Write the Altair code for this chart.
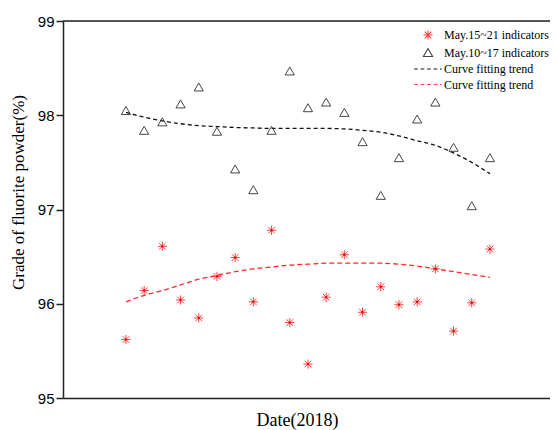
import altair as alt
import pandas as pd

# Data
idx = list(range(1, 22))
red_vals = [95.62, 96.14, 96.61, 96.04, 95.85, 96.29, 96.49, 96.02, 96.78, 95.80, 95.36,
            96.07, 96.52, 95.91, 96.18, 95.99, 96.02, 96.37, 95.71, 96.01, 96.58]
black_vals = [98.05, 97.84, 97.93, 98.12, 98.30, 97.83, 97.43, 97.21, 97.84, 98.47, 98.08,
              98.14, 98.03, 97.72, 97.15, 97.55, 97.96, 98.14, 97.66, 97.04, 97.55]
black_trend = [98.03, 97.98, 97.94, 97.91, 97.89, 97.88, 97.87, 97.865, 97.86, 97.86, 97.86,
               97.86, 97.855, 97.84, 97.82, 97.78, 97.73, 97.68, 97.60, 97.50, 97.38]
red_trend = [96.02, 96.09, 96.14, 96.20, 96.26, 96.30, 96.34, 96.37, 96.39, 96.41, 96.42,
             96.43, 96.43, 96.43, 96.43, 96.42, 96.40, 96.37, 96.34, 96.31, 96.28]

series_keys = ["a", "b", "c", "d"]
series_labels = ["May.15~21 indicators", "May.10~17 indicators", "Curve fitting trend", "Curve fitting trend"]
series_colors = ["#ff3030", "#333333", "#000000", "#ff3030"]

ASTER = "M-1,0L1,0M0,-1L0,1M-0.72,-0.72L0.72,0.72M-0.72,0.72L0.72,-0.72"
DASH = "M-3,0H-2.2M-1.6,0H-0.8M-0.2,0H0.6M1.2,0H2M2.6,0H3"
series_shapes = [ASTER, "triangle-up", DASH, DASH]

pts = pd.DataFrame({
    "i": idx + idx,
    "v": red_vals + black_vals,
    "series": ["a"] * 21 + ["b"] * 21,
})
black_df = pd.DataFrame({"i": idx, "v": black_trend})
red_df = pd.DataFrame({"i": idx, "v": red_trend})
red_pts = pd.DataFrame({"i": idx, "v": red_vals})

label_expr = ("datum.value == 'a' ? '%s' : datum.value == 'b' ? '%s' : '%s'"
              % (series_labels[0], series_labels[1], series_labels[2]))

xscale = alt.Scale(domain=[-2.46, 24.3], nice=False, zero=False)
yscale = alt.Scale(domain=[95, 99], nice=False, zero=False)

xenc = alt.X("i:Q", scale=xscale,
             axis=alt.Axis(labels=False, ticks=False, grid=False, title="Date(2018)",
                           titleFont="Liberation Serif", titleFontSize=18,
                           titleFontWeight="normal", titlePadding=13, titleX=234,
                           domainColor="#222222", domainWidth=1.5, titleColor="black"))
yenc = alt.Y("v:Q", scale=yscale,
             axis=alt.Axis(values=[95, 96, 97, 98, 99], format="d", grid=False, tickSize=7,
                           labelFont="Liberation Sans", labelFontSize=15, labelColor="black",
                           labelPadding=2, title="Grade of fluorite powder(%)",
                           titleFont="Liberation Serif", titleFontSize=17, titleY=171,
                           titleFontWeight="normal", titleColor="black", titlePadding=10,
                           domainColor="#222222", domainWidth=1.5,
                           tickColor="#222222", tickWidth=1.5))

black_line = alt.Chart(black_df).mark_line(strokeWidth=1.3, strokeDash=[4, 3], color="#111111",
                                           interpolate="monotone").encode(x=xenc, y=yenc)
red_line = alt.Chart(red_df).mark_line(strokeWidth=1.3, strokeDash=[5, 3], color="#ff2a2a",
                                       interpolate="monotone").encode(x=xenc, y=yenc)

points = alt.Chart(pts).mark_point(filled=False, size=85, strokeWidth=1, opacity=0.9).encode(
    x=xenc, y=yenc,
    color=alt.Color("series:N", scale=alt.Scale(domain=series_keys, range=series_colors),
                    title=None,
                    legend=alt.Legend(orient="none", legendX=359, legendY=8, labelExpr=label_expr,
                                      labelFont="Liberation Serif", labelFontSize=12,
                                      labelColor="black", symbolSize=85, symbolStrokeWidth=1.1,
                                      rowPadding=3.5, labelOffset=10, padding=0)),
    shape=alt.Shape("series:N", scale=alt.Scale(domain=series_keys, range=series_shapes), title=None),
)

red_dots = alt.Chart(red_pts).mark_point(filled=True, size=5, color="#e00000", opacity=1).encode(
    x=xenc, y=yenc)

top = alt.Chart(pd.DataFrame({"v": [99]})).mark_rule(color="#222222", strokeWidth=1.5).encode(
    y=alt.Y("v:Q", scale=yscale))

chart = alt.layer(black_line, red_line, points, red_dots, top).properties(
    width=487, height=377,
    autosize=alt.AutoSizeParams(type="none"),
    padding={"left": 55, "top": 13, "right": 0, "bottom": 32},
).configure_view(strokeWidth=0).configure(background="white")

chart.save("out.html", embed_options={"renderer": "svg", "actions": False})
